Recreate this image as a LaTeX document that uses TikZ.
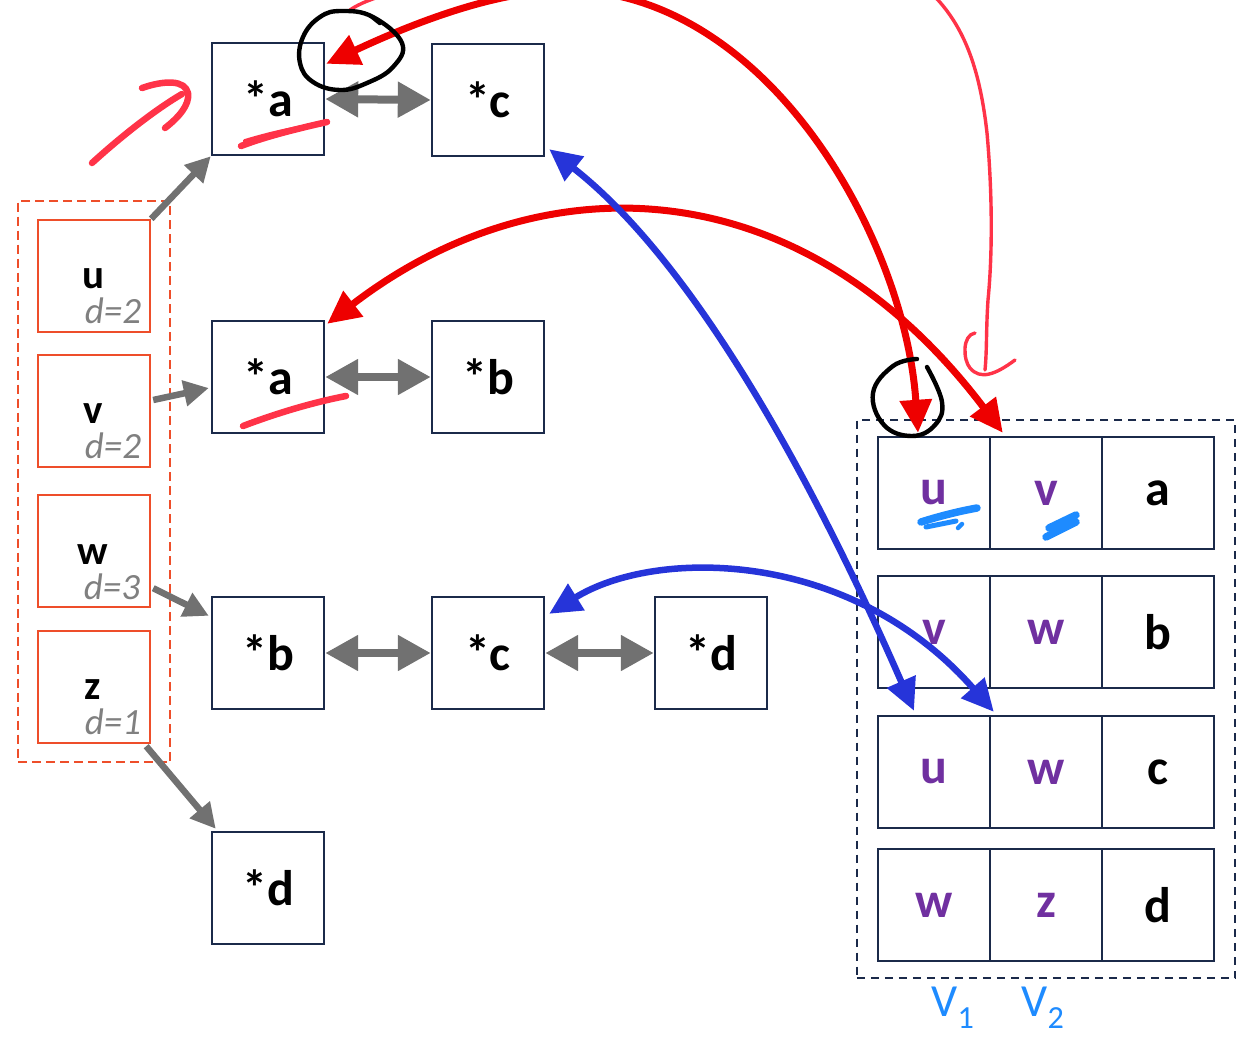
\documentclass[tikz,border=0pt]{standalone}
\usepackage{fontspec}
\setmainfont{Carlito}
\usetikzlibrary{arrows.meta,calc,fit}
\definecolor{navy}{HTML}{1B2A4A}
\definecolor{boxorange}{HTML}{EE4E2A}
\definecolor{arrgray}{HTML}{717171}
\definecolor{ptrred}{HTML}{EE0000}
\definecolor{ptrblue}{HTML}{2634D9}
\definecolor{vpurple}{HTML}{7030A0}
\definecolor{dgray}{HTML}{808080}
\definecolor{penred}{HTML}{FF3348}
\definecolor{penblue}{HTML}{1E8BFF}
\begin{document}
\begin{tikzpicture}[x=1pt,y=-1pt,
  ptrbox/.style={draw=navy, line width=2.4pt, minimum width=112pt, minimum height=112pt,
    inner sep=0pt, font=\fontsize{50}{50}\selectfont\bfseries},
  cell/.style={ptrbox},
  vcell/.style={ptrbox, text=vpurple},
  lbox/.style={draw=boxorange, line width=2.4pt, minimum width=112pt, minimum height=112pt, inner sep=0pt},
  lname/.style={anchor=base, inner sep=0pt, font=\fontsize{41}{41}\selectfont\bfseries},
  dlab/.style={anchor=base, inner sep=0pt, text=dgray, font=\fontsize{37}{37}\selectfont\itshape},
  gdbl/.style={draw=arrgray, line width=8pt, {Triangle[length=33pt,width=34pt]}-{Triangle[length=33pt,width=34pt]}},
  gone/.style={draw=arrgray, line width=6.5pt, -{Triangle[length=25pt,width=25pt]}},
  redarr/.style={draw=ptrred, line width=7pt, {Triangle[length=33pt,width=31pt]}-{Triangle[length=33pt,width=31pt]}},
  bluearr/.style={draw=ptrblue, line width=6.5pt, {Triangle[length=32pt,width=30pt]}-{Triangle[length=32pt,width=30pt]}},
  penthick/.style={draw=penred, line width=6.5pt, line cap=round, line join=round},
  penthin/.style={draw=penred, line width=3.4pt, line cap=round, line join=round},
  penblack/.style={draw=black, line width=4.4pt, line cap=round},
  penblu/.style={draw=penblue, line width=7.5pt, line cap=round, line join=round},
]
\useasboundingbox (0,0) rectangle (1243,1042);
\clip (0,0) rectangle (1243,1042);

% variables with their depths
\node[lbox] (lu) at (94,276) {};
\node[lbox] (lv) at (94,411) {};
\node[lbox] (lw) at (94,551) {};
\node[lbox] (lz) at (94,687) {};
\node[lname] (lu-n) at (93,288) {u};
\node[dlab]  (lu-d) at (113,323) {d=2};
\node[lname] (lv-n) at (93,423) {v};
\node[dlab]  (lv-d) at (113,458) {d=2};
\node[lname] (lw-n) at (93,564) {w};
\node[dlab]  (lw-d) at (112,599) {d=3};
\node[lname] (lz-n) at (93,699) {z};
\node[dlab]  (lz-d) at (113,734) {d=1};
\node[fit=(lu)(lz), draw=boxorange, line width=2pt, dash pattern=on 9pt off 5pt, inner xsep=19pt, inner ysep=18pt] (lframe) {};

% pointer boxes
\node[ptrbox] (pa1) at (268,99) {*a};
\node[ptrbox] (pc1) at (488,100) {*c};
\node[ptrbox] (pa2) at (268,377) {*a};
\node[ptrbox] (pb2) at (488,377) {*b};
\node[ptrbox] (pb3) at (268,653) {*b};
\node[ptrbox] (pc3) at (488,653) {*c};
\node[ptrbox] (pd3) at (711,653) {*d};
\node[ptrbox] (pd4) at (268,888) {*d};

% table of pairs
\node[vcell] (r1u) at (934,493) {u};
\node[vcell] (r1v) at (1046,493) {v};
\node[cell]  (r1a) at (1158,493) {a};
\node[vcell] (r2v) at (934,632) {v};
\node[vcell] (r2w) at (1046,632) {w};
\node[cell]  (r2b) at (1158,632) {b};
\node[vcell] (r3u) at (934,772) {u};
\node[vcell] (r3w) at (1046,772) {w};
\node[cell]  (r3c) at (1158,772) {c};
\node[vcell] (r4w) at (934,905) {w};
\node[vcell] (r4z) at (1046,905) {z};
\node[cell]  (r4d) at (1158,905) {d};
\node[fit=(r1u)(r4d), draw=navy, line width=2pt, dash pattern=on 8pt off 6pt, inner xsep=20pt, inner ysep=16pt] (tframe) {};

% gray links
\draw[gdbl] (pa1.east) -- (pc1.west);
\draw[gdbl] (pa2.east) -- (pb2.west);
\draw[gdbl] (pb3.east) -- (pc3.west);
\draw[gdbl] (pc3.east) -- (pd3.west);
\draw[gone] (lu.north east) -- (pa1.south west);
\draw[gone] ($(lv.east)+(2,-11)$) -- ($(pa2.west)+(-2,11)$);
\draw[gone] ($(lw.south east)+(2,-20)$) -- ($(pb3.north west)+(-2,20)$);
\draw[gone] ($(lz.south east)+(-5,2)$) -- ($(pd4.north west)+(5,-2)$);

% curved pointer arrows
\coordinate (ra1) at ($(pa1.north east)+(1,22)$);
\coordinate (ru1) at ($(r1u.north)+(-16,-3)$);
\coordinate (ra2) at ($(pa2.north east)+(2,4)$);
\coordinate (rv1) at ($(r1v.north west)+(14,-3)$);
\coordinate (bc1) at ($(pc1.south east)+(4,-8)$);
\coordinate (bu3) at ($(r3u.north)+(-20,-4)$);
\coordinate (bc3) at ($(pc3.north east)+(4,18)$);
\coordinate (bw3) at ($(r3w.north west)+(5,-3)$);
\draw[redarr] (ra1) .. controls (420,20) and (500,-10) .. (570,-10)
  .. controls (770,-5) and (905,240) .. (ru1);
\draw[redarr] (ra2) .. controls (540,160) and (800,165) .. (rv1);
\draw[bluearr] (bc1) .. controls (710,275) and (835,530) .. (bu3);
\draw[bluearr] (bc3) .. controls (655,548) and (850,548) .. (bw3);

% pen marks
\draw[penthick] (92,163) .. controls (125,133) and (158,108) .. (182,94);
\draw[penthick] (142,88) .. controls (165,80) and (185,80) .. (188,93)
  .. controls (190,105) and (178,118) .. (165,128);
\draw[penthick] (241,146) .. controls (270,135) and (305,127) .. (327,122);
\draw[penthick, line width=4pt] (245,141) .. controls (275,132) and (300,127) .. (322,124);
\draw[penthick] (243,426) .. controls (280,412) and (315,402) .. (346,396);
\draw[penthin] (350,10) .. controls (420,-40) and (880,-60) .. (938,0)
  .. controls (965,30) and (980,70) .. (987,133)
  .. controls (993,200) and (992,260) .. (988,300)
  .. controls (986,330) and (987,350) .. (985,370);
\draw[penthin] (975,333) .. controls (962,335) and (963,360) .. (970,368)
  .. controls (980,380) and (995,375) .. (1015,360);
\draw[penblack] plot[smooth cycle, tension=0.7] coordinates
  {(320,17) (342,11) (373,17) (402,43) (393,67) (367,83) (340,90) (313,82) (300,63) (303,37)};
\draw[penblack, line width=3pt] (370,16) -- (380,24);
\draw[penblack] plot[smooth, tension=0.7] coordinates
  {(917,359) (893,366) (873,393) (884,425) (912,436) (935,425) (942,402) (927,367)};
\draw[penblu] (921,522) .. controls (940,516) and (960,511) .. (977,508);
\draw[penblu, line width=5pt] (926,527) -- (956,521);
\draw[penblu, line width=4.5pt] (958,528) -- (962,524);
\draw[penblu] (1049,528) -- (1076,515);
\draw[penblu] (1046,537) -- (1076,522);

% column names
\node[text=penblue, font=\fontsize{46}{46}\selectfont, inner sep=0pt] (v1) at (953,1008) {V\textsubscript{1}};
\node[text=penblue, font=\fontsize{46}{46}\selectfont, inner sep=0pt] (v2) at (1043,1008) {V\textsubscript{2}};
\end{tikzpicture}
\end{document}
